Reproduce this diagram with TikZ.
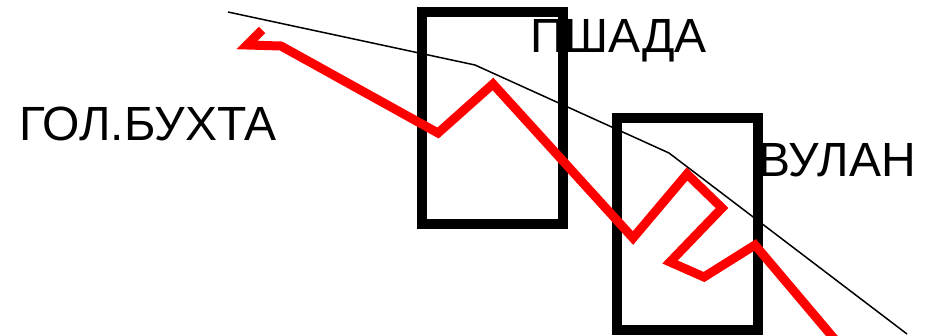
\documentclass[tikz,border=0pt]{standalone}
\usepackage{fontspec}
\setmainfont{Liberation Sans}
\usepackage{tikz}

\begin{document}
\begin{tikzpicture}[
  x=1pt, y=-1pt,
  place/.style={anchor=base west, inner sep=0pt, font=\fontsize{48}{52}\selectfont},
  frame/.style={draw=black, line width=10pt},
  coast/.style={draw=black, line width=1.5pt},
  route/.style={draw=red, line width=9pt}
]
\useasboundingbox (0,0) rectangle (926,335);
% coast line
\draw[coast] (228,12) -- (475,65) -- (669,153) -- (907,334);
% frames
\draw[frame] (422,12) rectangle (563,224);
\draw[frame] (617,118) rectangle (758,330);
% route
\draw[route] (262,30) -- (247,45) -- (281,46) -- (438,133) -- (493,84) -- (633,238)
  -- (687,174) -- (722,208) -- (670,262) -- (704,277) -- (755,245) -- (842,348);
% names
\node[place] (bukhta) at (19,140) {ГОЛ.БУХТА};
\node[place] (pshada) at (530,52) {ПШАДА};
\node[place] (vulan) at (758,176) {ВУЛАН};
\end{tikzpicture}
\end{document}
